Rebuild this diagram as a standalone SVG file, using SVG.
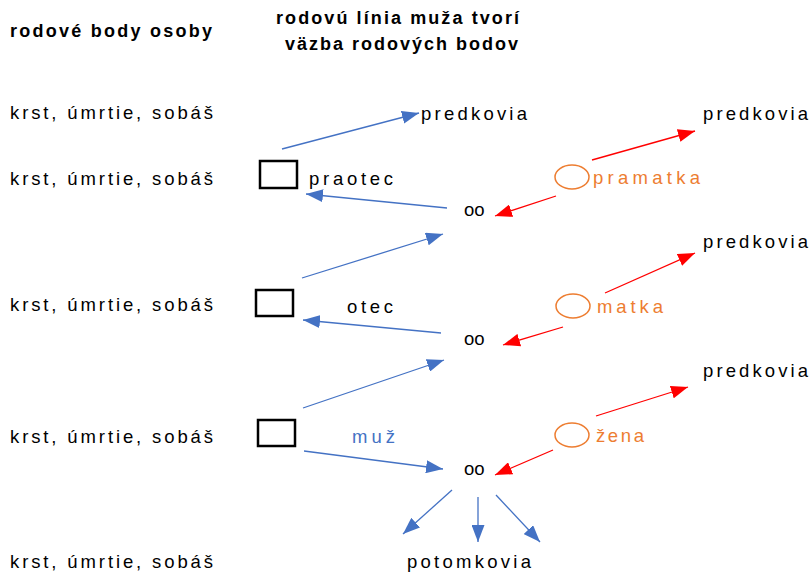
<svg xmlns="http://www.w3.org/2000/svg" width="812" height="572" viewBox="0 0 812 572">
  <style>
    text { font-family: "Liberation Sans", Arial, sans-serif; font-size: 18.5px; fill: #000; }
    .hdr { font-weight: bold; font-size: 18px; }
    .blue { fill: #4472C4; }
    .orange { fill: #ED7D31; }
    .box { fill: none; stroke: #000; stroke-width: 2.5; }
    .ring { fill: none; stroke: #ED7D31; stroke-width: 1.5; }
    .lb { stroke: #4472C4; stroke-width: 1.3; fill: none; marker-end: url(#ab); }
    .lr { stroke: #FF0000; stroke-width: 1.3; fill: none; marker-end: url(#ar); }
  </style>
  <defs>
    <marker id="ab" markerUnits="userSpaceOnUse" markerWidth="17" markerHeight="13" refX="17" refY="6.5" orient="auto">
      <path d="M0,0 L17,6.5 L0,13 z" fill="#4472C4"/>
    </marker>
    <marker id="ar" markerUnits="userSpaceOnUse" markerWidth="17" markerHeight="13" refX="17" refY="6.5" orient="auto">
      <path d="M0,0 L17,6.5 L0,13 z" fill="#FF0000"/>
    </marker>
  </defs>
  <rect width="812" height="572" fill="#fff"/>

  <!-- column headers -->
  <g id="headers">
    <text class="hdr" x="10" y="37" textLength="202" lengthAdjust="spacing">rodové body osoby</text>
    <text class="hdr" x="276" y="24" textLength="243" lengthAdjust="spacing">rodovú línia muža tvorí</text>
    <text class="hdr" x="285" y="50" textLength="233" lengthAdjust="spacing">väzba rodových bodov</text>
  </g>

  <!-- per-row record points -->
  <g id="row-labels">
    <text x="10" y="119" textLength="203" lengthAdjust="spacing">krst, úmrtie, sobáš</text>
    <text x="10" y="185" textLength="203" lengthAdjust="spacing">krst, úmrtie, sobáš</text>
    <text x="10" y="311" textLength="203" lengthAdjust="spacing">krst, úmrtie, sobáš</text>
    <text x="10" y="443" textLength="203" lengthAdjust="spacing">krst, úmrtie, sobáš</text>
    <text x="10" y="568" textLength="203" lengthAdjust="spacing">krst, úmrtie, sobáš</text>
  </g>

  <!-- ancestors -->
  <g id="predkovia-1"><text x="421" y="120" textLength="106" lengthAdjust="spacing">predkovia</text></g>
  <g id="predkovia-2"><text x="703" y="120" textLength="105" lengthAdjust="spacing">predkovia</text></g>
  <g id="predkovia-3"><text x="703" y="248" textLength="105" lengthAdjust="spacing">predkovia</text></g>
  <g id="predkovia-4"><text x="703" y="377" textLength="105" lengthAdjust="spacing">predkovia</text></g>

  <!-- male line -->
  <g id="praotec">
    <rect class="box" x="260" y="161" width="37" height="27"/>
    <text x="309" y="185" textLength="84" lengthAdjust="spacing">praotec</text>
  </g>
  <g id="otec">
    <rect class="box" x="256" y="290" width="37" height="26"/>
    <text x="347" y="313" textLength="46" lengthAdjust="spacing">otec</text>
  </g>
  <g id="muz">
    <rect class="box" x="258" y="420" width="37" height="26"/>
    <text class="blue" x="352" y="443" textLength="43" lengthAdjust="spacing">muž</text>
  </g>

  <!-- female side -->
  <g id="pramatka">
    <ellipse class="ring" cx="572" cy="177" rx="17" ry="12"/>
    <text class="orange" x="593" y="184" textLength="107" lengthAdjust="spacing">pramatka</text>
  </g>
  <g id="matka">
    <ellipse class="ring" cx="573" cy="306" rx="17" ry="12"/>
    <text class="orange" x="597" y="313" textLength="66" lengthAdjust="spacing">matka</text>
  </g>
  <g id="zena">
    <ellipse class="ring" cx="572" cy="435" rx="17" ry="12"/>
    <text class="orange" x="596" y="442" textLength="48" lengthAdjust="spacing">žena</text>
  </g>

  <!-- couples -->
  <g id="oo-1"><text x="464" y="216">oo</text></g>
  <g id="oo-2"><text x="464" y="345">oo</text></g>
  <g id="oo-3"><text x="464" y="475">oo</text></g>

  <!-- descendants -->
  <g id="potomkovia"><text x="407" y="568" textLength="124" lengthAdjust="spacing">potomkovia</text></g>

  <!-- connectors -->
  <g id="connectors">
    <line class="lb" x1="282" y1="149" x2="419" y2="113"/>
    <line class="lb" x1="447" y1="208" x2="306" y2="194"/>
    <line class="lb" x1="302" y1="278" x2="443" y2="234"/>
    <line class="lb" x1="441" y1="333" x2="303" y2="320"/>
    <line class="lb" x1="303" y1="408" x2="444" y2="360"/>
    <line class="lb" x1="304" y1="451" x2="443" y2="469"/>
    <line class="lb" x1="452" y1="490" x2="403" y2="534"/>
    <line class="lb" x1="478" y1="497" x2="478" y2="542"/>
    <line class="lb" x1="496" y1="495" x2="540" y2="542"/>

    <line class="lr" x1="556" y1="196" x2="495" y2="216"/>
    <line class="lr" x1="592" y1="160" x2="695" y2="131"/>
    <line class="lr" x1="563" y1="327" x2="503" y2="345"/>
    <line class="lr" x1="605" y1="293" x2="695" y2="253"/>
    <line class="lr" x1="553" y1="450" x2="495" y2="475"/>
    <line class="lr" x1="596" y1="416" x2="688" y2="387"/>
  </g>
</svg>
